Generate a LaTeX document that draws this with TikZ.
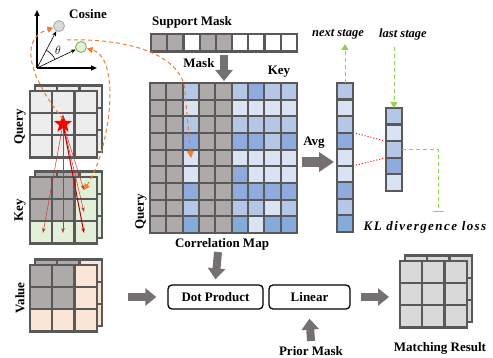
\documentclass[tikz,border=0pt]{standalone}
\usepackage{fontspec}
\setmainfont{Liberation Serif}
\usetikzlibrary{arrows.meta,shapes.geometric,positioning}

\definecolor{gridc}{HTML}{595959}
\definecolor{cg}{HTML}{AEAAAA}
\definecolor{cl}{HTML}{DAE3F3}
\definecolor{cm}{HTML}{B4C7E7}
\definecolor{cd}{HTML}{8FAADC}
\definecolor{ce}{HTML}{84ABD9}
\definecolor{qc}{HTML}{EDEDED}
\definecolor{kc}{HTML}{E2F0D9}
\definecolor{vc}{HTML}{FBE5D6}
\definecolor{rc}{HTML}{D9D9D9}
\definecolor{arrowc}{HTML}{767171}
\definecolor{orangec}{HTML}{ED7D31}
\definecolor{greenc}{HTML}{92D050}
\definecolor{redc}{HTML}{C00000}
\definecolor{dotgreen}{HTML}{70AD47}
\definecolor{dotgrayb}{HTML}{A6A6A6}

\tikzset{
  cellbox/.style={draw=gridc, line width=2.2pt},
  lbl/.style={font=\bfseries\fontsize{13}{15}\selectfont, inner sep=0pt},
  stagelbl/.style={font=\bfseries\itshape\fontsize{12.5}{14}\selectfont, inner sep=0pt},
  fatarrow/.style={line width=8pt, draw=arrowc, -{Triangle[length=11pt,width=17pt]}},
  axis/.style={line width=1.3pt, -{Triangle[length=6pt,width=5pt]}},
  vec/.style={line width=0.6pt, -{Stealth[length=5pt,width=4pt]}},
  vecdot/.style={circle, minimum size=11pt, inner sep=0pt, line width=0.8pt},
  orangedash/.style={orangec, line width=1pt, dash pattern=on 4pt off 3pt},
  greendash/.style={greenc, line width=1pt, dash pattern=on 4pt off 3pt},
  redarr/.style={redc!80, line width=0.5pt, -{Stealth[length=5pt,width=3.5pt]}},
  opbox/.style={draw, rounded corners=4pt, line width=1.3pt, minimum height=24pt,
    font=\bfseries\fontsize{13}{15}\selectfont},
}

% stacked 3x3 feature map: top-left x, top-left y, nine cell colours
\newcommand{\featgrid}[3]{%
  \foreach \dx/\dy in {5/-5.5, 0/0} {
    \foreach \c [count=\i from 0] in {#3} {
      \pgfmathtruncatemacro\cc{mod(\i,3)}
      \pgfmathtruncatemacro\rr{\i/3}
      \draw[cellbox, fill=\c] ({#1+\dx+\cc*22.2},{#2+\dy+\rr*22.2}) rectangle ++(22.2,22.2);
    }
  }
}

\begin{document}
\begin{tikzpicture}[x=1pt,y=-1pt]
  \useasboundingbox (0,0) rectangle (493,358);

  % Cosine axes
  \coordinate (o) at (37,68);
  \coordinate (ytop) at (37,10);
  \coordinate (xend) at (97,68);
  \draw[axis] (o) -- (ytop);
  \draw[axis] (o) -- (xend);
  \node[vecdot, fill=rc, draw=dotgrayb] (gvec) at (59,26) {};
  \node[vecdot, fill=kc, draw=dotgreen] (cvec) at (81,47) {};
  \draw[vec] (o) -- (gvec);
  \draw[vec] (o) -- (cvec);
  \draw[line width=0.6pt] (o) ++(-62.4:20) arc[start angle=-62.4, end angle=-25.5, radius=20];
  \node[font=\fontsize{12}{14}\selectfont] (theta) at (58,50) {$\theta$};
  \node[lbl] (cosine) at (88,14) {Cosine};

  % Query / Key / Value
  \featgrid{30}{91}{qc,qc,qc,qc,qc,qc,qc,qc,qc}
  \featgrid{30}{177}{cg,cg,kc,cg,cg,kc,kc,kc,kc}
  \featgrid{30}{265}{cg,cg,vc,cg,cg,vc,vc,vc,vc}
  \node[lbl, rotate=90] (qlab) at (20,127) {Query};
  \node[lbl, rotate=90] (klab) at (20,210) {Key};
  \node[lbl, rotate=90] (vlab) at (20,298) {Value};

  \node[star, star points=5, star point ratio=2.4, fill=red, inner sep=0pt, minimum size=19pt] (qstar) at (63,124) {};
  \coordinate (k20) at (43,233);
  \coordinate (k21) at (63,233);
  \coordinate (k22) at (84,233);
  \coordinate (k12) at (84,212);
  \coordinate (k02) at (84,190);
  \foreach \t in {k20,k21,k12,k02}
    \draw[redarr] (qstar.center) -- (\t);
  \draw[redarr, redc, line width=1pt] (qstar.center) -- (k22);

  % Support mask
  \node[lbl] (smlab) at (192,22) {Support Mask};
  \foreach \c [count=\i from 0] in {cg,cg,white,cg,cg,white,white,white,white}
    \draw[cellbox, fill=\c] ({151+\i*16.2},34) rectangle ++(16.2,17.5);
  \node[lbl] (masklab) at (199,63) {Mask};
  \coordinate (mtop) at (224,55);
  \coordinate (mbot) at (224,81);
  \draw[fatarrow] (mtop) -- (mbot);
  \node[lbl] (keylab) at (279,72) {Key};

  % Correlation map
  \foreach \row [count=\r from 0] in {
      {cg,cg,cm,cg,cg,cm,cd,cm,cm},
      {cg,cg,cl,cg,cg,cl,cl,cl,cl},
      {cg,cg,cm,cg,cg,cm,cm,cm,cm},
      {cg,cg,cd,cg,cg,cd,cd,cm,cd},
      {cg,cg,cl,cg,cg,cl,cl,cl,cl},
      {cg,cg,cl,cg,cg,cd,cl,cl,cl},
      {cg,cg,cd,cg,cg,cd,cd,cd,cd},
      {cg,cg,cm,cg,cg,cm,cm,cl,cm},
      {cg,cg,ce,cg,cg,ce,cl,ce,ce}}
    \foreach \c [count=\k from 0] in \row
      \draw[cellbox, fill=\c] ({150+\k*16.33},{83+\r*16.67}) rectangle ++(16.33,16.67);
  \node[lbl, rotate=90] (cqlab) at (141,212) {Query};
  \node[lbl] (corrlab) at (222,244) {Correlation Map};
  \coordinate (c24) at (191,158);

  % orange dashed paths
  \coordinate (qfrom) at (63,119);
  \draw[orangedash, -{Triangle[length=6pt,width=6pt]}] (qfrom) .. controls (35,85) and (15,40) .. (gvec);
  \draw[orangedash, {Triangle[length=6pt,width=6pt]}-{Triangle[length=6pt,width=6pt]}]
    (k02) .. controls (110,150) and (122,58) .. (cvec);
  \coordinate (cstart) at (67,40);
  \coordinate (cbend) at (185,92);
  \draw[orangedash, -{Triangle[length=7pt,width=7pt]}] (cstart) .. controls (140,38) and (184,60) .. (cbend) -- (c24);

  % Avg vectors
  \node[lbl] (avglab) at (314,143) {Avg};
  \coordinate (avgl) at (302,162);
  \coordinate (avgr) at (334,162);
  \draw[fatarrow, line width=10pt, -{Triangle[length=15pt,width=19pt]}] (avgl) -- (avgr);
  \foreach \c [count=\r from 0] in {cm,cl,cm,cd,cl,cl,cd,cm,ce}
    \draw[cellbox, fill=\c] (337,{83+\r*16.55}) rectangle ++(16,16.55);
  \foreach \c [count=\r from 0] in {cm,cl,cm,cd,cl}
    \draw[cellbox, fill=\c] (386,{108+\r*16.6}) rectangle ++(16,16.6);
  \coordinate (a3) at (353,132.6);
  \coordinate (a5) at (353,165.8);
  \coordinate (b2) at (386,141.2);
  \coordinate (b3) at (386,157.8);
  \draw[red, line width=1pt, dotted] (a3) -- (b2);
  \draw[red, line width=1pt, dotted] (a5) -- (b3);

  % stages and KL loss
  \node[stagelbl] (nextlab) at (338,34) {next stage};
  \node[stagelbl] (lastlab) at (403,34) {last stage};
  \coordinate (atop) at (345,83);
  \coordinate (nexttip) at (345,44);
  \coordinate (lastfrom) at (394,47);
  \coordinate (btop) at (394,108);
  \draw[greendash, -{Triangle[length=6pt,width=7pt]}] (atop) -- (nexttip);
  \draw[greendash, -{Triangle[length=6pt,width=7pt]}] (lastfrom) -- (btop);
  \coordinate (b2r) at (402,149.5);
  \coordinate (klend) at (438,212);
  \draw[greendash, -{Bar[width=11pt]}] (b2r) -| (klend);
  \node[font=\bfseries\itshape\fontsize{13}{15}\selectfont\addfontfeature{LetterSpace=11}, inner sep=0pt]
    (kllab) at (425,227) {KL divergence loss};

  % bottom row
  \node[opbox, minimum width=95pt] (dot) at (215.5,297) {Dot Product};
  \node[opbox, minimum width=81pt] (lin) at (309.5,297) {Linear};
  \coordinate (corrbot) at (218,252);
  \draw[fatarrow] (corrbot) -- ([yshift=5pt]dot.north);
  \coordinate (vright) at (128,297);
  \draw[fatarrow] (vright) -- ([xshift=-11pt]dot.west);
  \node[lbl] (priorlab) at (311,351) {Prior Mask};
  \coordinate (priortop) at (311,341);
  \draw[fatarrow] (priortop) -- ([yshift=-9pt]lin.south);
  \coordinate (resl) at (389,297);
  \draw[fatarrow] ([xshift=10pt]lin.east) -- (resl);
  \featgrid{400}{261}{rc,rc,rc,rc,rc,rc,rc,rc,rc}
  \node[lbl] (reslab) at (440,348) {Matching Result};
\end{tikzpicture}
\end{document}
